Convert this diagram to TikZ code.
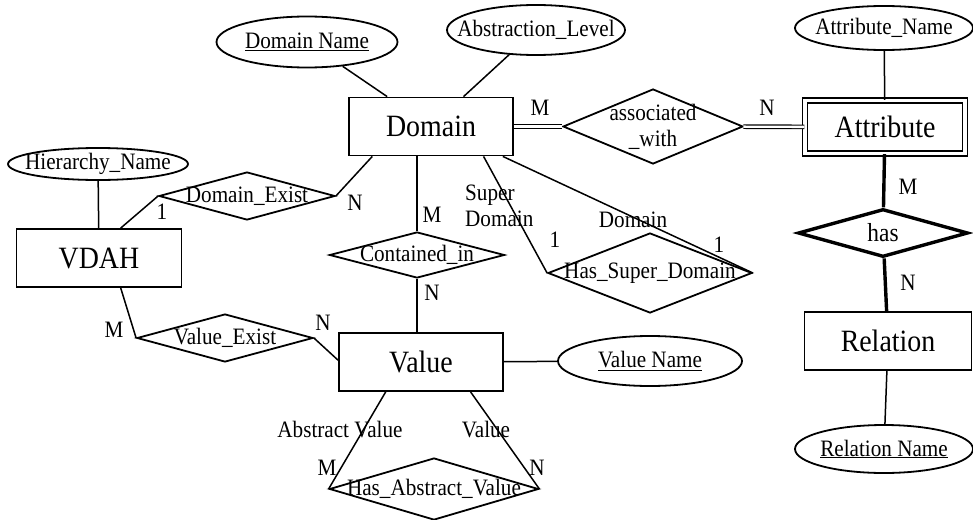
\documentclass[tikz,border=0pt]{standalone}
\usepackage{fontspec}
\setmainfont{Liberation Serif}[FakeStretch=0.9]
\usetikzlibrary{shapes.geometric,calc}
\tikzset{
  ent/.style={draw, rectangle, line width=1.8pt, inner sep=0pt, font=\fontsize{31}{33}\selectfont},
  attrib/.style={draw, ellipse, line width=1.8pt, inner sep=0pt},
  relship/.style={draw, diamond, line width=1.8pt, inner sep=0pt},
  lab/.style={font=\fontsize{23.5}{26}\selectfont, inner sep=0pt},
  conn/.style={line width=1.5pt},
  dbl/.style={double, double distance=2.4pt, line width=1.1pt},
  heavy/.style={line width=3.4pt},
}
\begin{document}
\begin{tikzpicture}[x=1pt,y=-1pt]
\useasboundingbox (0,0) rectangle (973,519);

% entities
\node[ent, minimum width=164pt, minimum height=58pt] (domain) at (431,126.5) {Domain};
\node[ent, minimum width=165pt, minimum height=58pt] (vdah) at (99,258) {VDAH};
\node[ent, minimum width=164pt, minimum height=58pt] (value) at (421,362) {Value};
\node[ent, minimum width=167pt, minimum height=58pt] (relation) at (888,341) {Relation};
\node[ent, double, double distance=3.5pt, line width=1.4pt, minimum width=160pt, minimum height=53pt] (attr) at (885,127) {Attribute};

% attributes (ellipses)
\node[attrib, minimum width=181pt, minimum height=51pt] (dname) at (307,42) {};
\node[lab] (dnameT) at (dname) {\underline{Domain Name}};
\node[attrib, minimum width=178pt, minimum height=50pt] (alevel) at (536,30) {};
\node[lab] (alevelT) at (alevel) {Abstraction\_Level};
\node[attrib, minimum width=178pt, minimum height=44pt] (aname) at (884,28) {};
\node[lab] (anameT) at (aname) {Attribute\_Name};
\node[attrib, minimum width=180pt, minimum height=32pt] (hname) at (98,164) {};
\node[lab] (hnameT) at (hname) {Hierarchy\_Name};
\node[attrib, minimum width=184pt, minimum height=50pt] (vname) at (650,361) {};
\node[lab] (vnameT) at (vname) {\underline{Value Name}};
\node[attrib, minimum width=178pt, minimum height=48pt] (rname) at (884,449) {};
\node[lab] (rnameT) at (rname) {\underline{Relation Name}};

% relationships (diamonds)
\node[relship, minimum width=180pt, minimum height=75pt] (assoc) at (653,126.5) {};
\node[lab, align=center] (assocT) at (assoc) {associated\\\_with};
\node[relship, line width=3.4pt, minimum width=170pt, minimum height=48pt] (has) at (883,233) {};
\node[lab, font=\fontsize{26}{28}\selectfont] (hasT) at (has) {has};
\node[relship, minimum width=176pt, minimum height=48pt] (dexist) at (247,196) {};
\node[lab] (dexistT) at (dexist) {Domain\_Exist};
\node[relship, minimum width=175pt, minimum height=46pt] (cin) at (417,255) {};
\node[lab] (cinT) at (cin) {Contained\_in};
\node[relship, minimum width=204pt, minimum height=80pt] (hsd) at (650,273) {};
\node[lab] (hsdT) at (hsd) {Has\_Super\_Domain};
\node[relship, minimum width=176pt, minimum height=48pt] (vexist) at (225,338) {};
\node[lab] (vexistT) at (vexist) {Value\_Exist};
\node[relship, minimum width=209pt, minimum height=62pt] (hav) at (434,489) {};
\node[lab] (havT) at (hav) {Has\_Abstract\_Value};

% connectors
\draw[conn] (dname) -- (domain);
\draw[conn] (alevel) -- (domain);
\draw[dbl] (domain) -- (assoc);
\draw[dbl] (assoc) -- (attr);
\draw[conn] (aname) -- (attr);
\draw[heavy] (attr) -- (has);
\draw[heavy] (has) -- (relation);
\draw[conn] (relation) -- (rname);
\draw[conn] (hname) -- (vdah);
\draw[conn] ($(vdah.north west)!0.63!(vdah.north east)$) -- (dexist.west);
\draw[conn] (dexist.east) -- ($(domain.south west)!0.146!(domain.south east)$);
\draw[conn] (cin.north |- domain.south) -- (cin.north);
\draw[conn] (cin.south) -- (cin.south |- value.north);
\draw[conn] ($(domain.south west)!0.817!(domain.south east)$) -- (hsd.west);
\draw[conn] ($(domain.south west)!0.933!(domain.south east)$) -- (hsd.east);
\draw[conn] ($(vdah.south west)!0.63!(vdah.south east)$) -- (vexist.west);
\draw[conn] (vexist.east) -- ($(value.north west)!0.47!(value.south west)$);
\draw[conn] (value) -- (vname);
\draw[conn] ($(value.south west)!0.287!(value.south east)$) -- (hav.west);
\draw[conn] ($(value.south west)!0.799!(value.south east)$) -- (hav.east);

% cardinalities and roles
\node[lab] (c1) at (540,108) {M};
\node[lab] (c2) at (767,108) {N};
\node[lab] (c3) at (908,187) {M};
\node[lab] (c4) at (908,283) {N};
\node[lab] (c5) at (162,212) {1};
\node[lab] (c6) at (355,203) {N};
\node[lab] (c7) at (432,215) {M};
\node[lab] (c8) at (432,293) {N};
\node[lab, align=left, anchor=west] (r1) at (465,205.5) {Super\\Domain};
\node[lab] (c9) at (555,240) {1};
\node[lab] (r2) at (633,220) {Domain};
\node[lab] (c10) at (719,245) {1};
\node[lab] (c11) at (114,330) {M};
\node[lab] (c12) at (323,323) {N};
\node[lab] (r3) at (340,430) {Abstract Value};
\node[lab] (r4) at (486,430) {Value};
\node[lab] (c13) at (327,468) {M};
\node[lab] (c14) at (537,468) {N};
\end{tikzpicture}
\end{document}
